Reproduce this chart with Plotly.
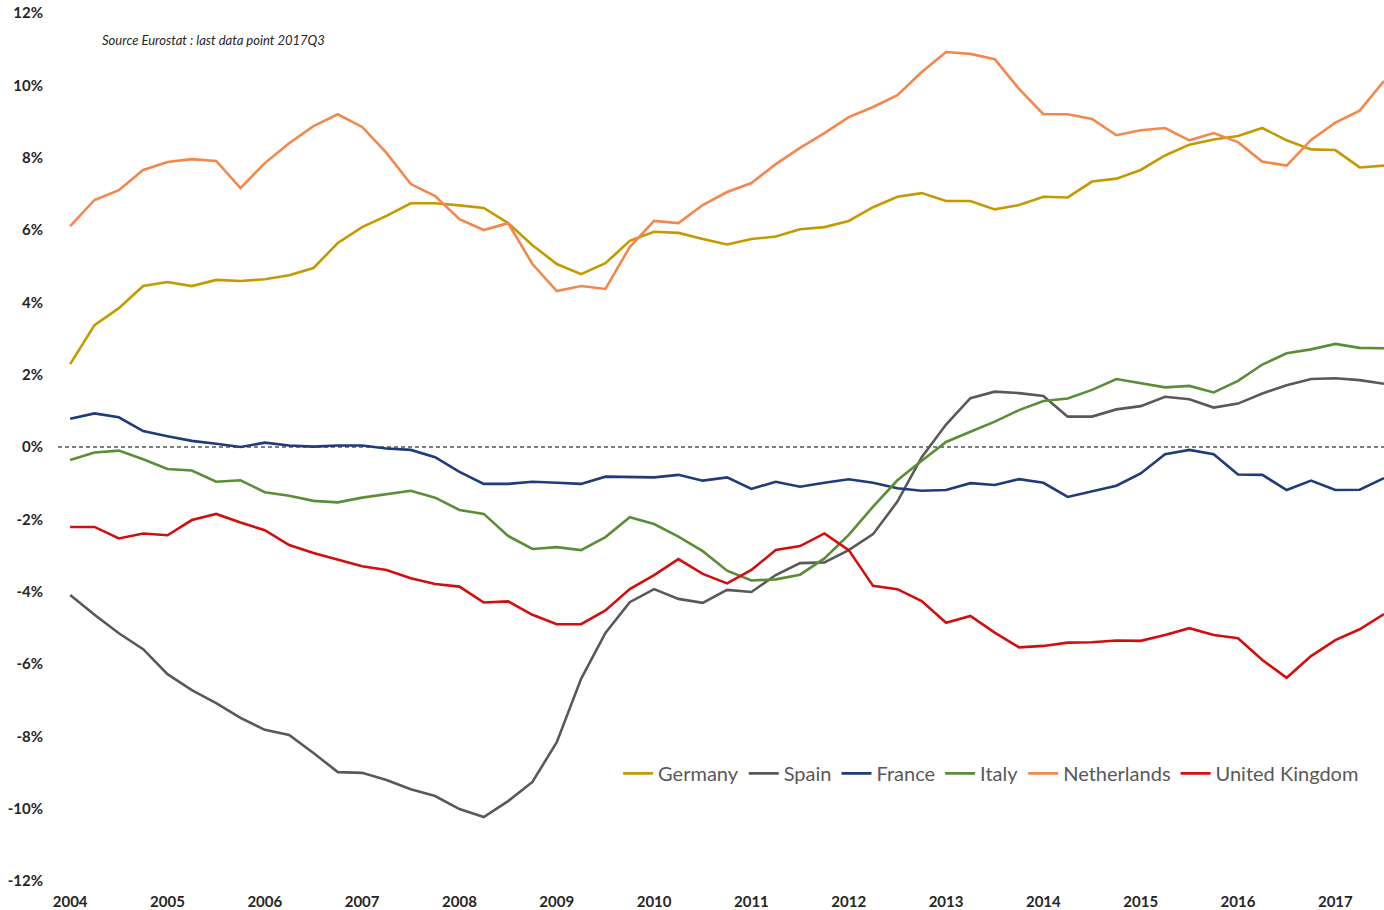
"""
Current account balance (% of GDP), selected European economies, 2004Q1-2017Q3.
"""

import plotly.graph_objects as go

YEARS = list(range(2004, 2018))
QUARTERS = [f"{y}Q{q}" for y in YEARS for q in (1, 2, 3, 4)][:55]

GERMANY = [
    2.29, 3.37, 3.84, 4.45, 4.56, 4.45, 4.62, 4.59, 4.64, 4.75, 4.95, 5.64, 6.08, 6.39,
    6.74, 6.74, 6.68, 6.61, 6.19, 5.58, 5.06, 4.78, 5.08, 5.70, 5.95, 5.92, 5.75, 5.60,
    5.75, 5.82, 6.02, 6.08, 6.25, 6.63, 6.92, 7.02, 6.80, 6.80, 6.57, 6.69, 6.92, 6.90,
    7.34, 7.42, 7.66, 8.06, 8.36, 8.50, 8.60, 8.82, 8.48, 8.23, 8.21, 7.73, 7.78,
]
SPAIN = [
    -4.09, -4.64, -5.15, -5.59, -6.28, -6.72, -7.08, -7.49, -7.82, -7.96, -8.46, -8.99,
    -9.01, -9.21, -9.46, -9.65, -10.01, -10.23, -9.79, -9.26, -8.16, -6.41, -5.14, -4.29,
    -3.93, -4.20, -4.31, -3.95, -4.01, -3.54, -3.21, -3.19, -2.85, -2.41, -1.51, -0.28,
    0.62, 1.35, 1.53, 1.49, 1.41, 0.84, 0.84, 1.04, 1.13, 1.39, 1.32, 1.09, 1.20, 1.48,
    1.71, 1.88, 1.90, 1.85, 1.75,
]
FRANCE = [
    0.78, 0.93, 0.82, 0.44, 0.30, 0.17, 0.09, 0.00, 0.12, 0.04, 0.01, 0.04, 0.04, -0.04,
    -0.08, -0.28, -0.69, -1.02, -1.02, -0.96, -0.99, -1.02, -0.82, -0.82, -0.84, -0.77,
    -0.93, -0.84, -1.16, -0.96, -1.10, -0.99, -0.89, -0.99, -1.14, -1.21, -1.19, -1.00,
    -1.05, -0.89, -0.99, -1.38, -1.22, -1.07, -0.73, -0.20, -0.08, -0.20, -0.76, -0.77,
    -1.19, -0.93, -1.19, -1.18, -0.86,
]
ITALY = [
    -0.36, -0.15, -0.10, -0.34, -0.61, -0.65, -0.96, -0.92, -1.25, -1.35, -1.49, -1.53,
    -1.40, -1.30, -1.21, -1.40, -1.74, -1.85, -2.46, -2.82, -2.77, -2.85, -2.49, -1.94,
    -2.13, -2.48, -2.88, -3.42, -3.69, -3.66, -3.53, -3.08, -2.43, -1.65, -0.92, -0.38,
    0.14, 0.42, 0.70, 1.02, 1.27, 1.34, 1.58, 1.88, 1.76, 1.65, 1.69, 1.51, 1.83, 2.28,
    2.59, 2.70, 2.85, 2.74, 2.73,
]
NETHERLANDS = [
    6.11, 6.83, 7.10, 7.66, 7.88, 7.96, 7.91, 7.16, 7.85, 8.40, 8.87, 9.20, 8.85, 8.13,
    7.27, 6.94, 6.30, 6.00, 6.19, 5.06, 4.31, 4.45, 4.37, 5.53, 6.25, 6.19, 6.69, 7.05,
    7.30, 7.82, 8.27, 8.68, 9.12, 9.40, 9.73, 10.37, 10.92, 10.87, 10.72, 9.90, 9.20,
    9.20, 9.07, 8.62, 8.76, 8.82, 8.48, 8.68, 8.43, 7.89, 7.78, 8.49, 8.97, 9.30, 10.12,
]
UNITED_KINGDOM = [
    -2.21, -2.21, -2.53, -2.39, -2.44, -2.02, -1.85, -2.09, -2.30, -2.71, -2.93, -3.12,
    -3.30, -3.40, -3.63, -3.79, -3.86, -4.30, -4.27, -4.64, -4.90, -4.90, -4.52, -3.93,
    -3.54, -3.10, -3.51, -3.77, -3.40, -2.85, -2.74, -2.39, -2.85, -3.84, -3.93, -4.26,
    -4.86, -4.67, -5.13, -5.54, -5.50, -5.41, -5.40, -5.35, -5.36, -5.20, -5.01, -5.20,
    -5.29, -5.89, -6.38, -5.78, -5.34, -5.04, -4.62,
]

SERIES = [
    ("Germany", GERMANY, "#C49A00"),
    ("Spain", SPAIN, "#595959"),
    ("France", FRANCE, "#1F3B7A"),
    ("Italy", ITALY, "#5A8E36"),
    ("Netherlands", NETHERLANDS, "#F4874B"),
    ("United Kingdom", UNITED_KINGDOM, "#D40D0D"),
]

Y_TICKS = list(range(-12, 13, 2))
FONT = "Lato, Carlito, Calibri, sans-serif"


def build_figure():
    fig = go.Figure()
    for name, values, color in SERIES:
        fig.add_trace(
            go.Scatter(
                x=QUARTERS,
                y=values,
                name=name,
                mode="lines",
                line=dict(color=color, width=2.6),
            )
        )

    # dashed zero line across the whole plot area
    fig.add_shape(
        type="line", xref="paper", yref="y",
        x0=0, x1=1, y0=0, y1=0,
        line=dict(color="black", width=1.2, dash="4px,3px"),
        layer="below",
    )
    fig.add_annotation(
        text="Source Eurostat : last data point 2017Q3",
        xref="paper", yref="paper", x=0.032, y=0.969,
        xanchor="left", yanchor="middle", showarrow=False,
        font=dict(family=FONT, size=13, color="#262626", style="italic"),
    )

    fig.update_layout(
        width=1384,
        height=910,
        margin=dict(t=13, b=29, l=58, r=0),
        plot_bgcolor="white",
        paper_bgcolor="white",
        font=dict(family=FONT),
        legend=dict(
            orientation="h",
            x=0.985, xanchor="right",
            y=0.124, yanchor="middle",
            bgcolor="rgba(0,0,0,0)",
            font=dict(family=FONT, size=20, color="#595959"),
            itemwidth=30,
            tracegroupgap=0,
        ),
    )
    fig.update_xaxes(
        type="category",
        range=[-0.5, 54],
        tickvals=[f"{y}Q1" for y in YEARS],
        ticktext=[str(y) for y in YEARS],
        tickfont=dict(family=FONT, size=15, color="#262626", weight="bold"),
        showgrid=False,
        showline=False,
        zeroline=False,
        ticklabelstandoff=10,
    )
    fig.update_yaxes(
        range=[-12, 12],
        tickvals=Y_TICKS,
        ticktext=[f"{v}%" for v in Y_TICKS],
        tickfont=dict(family=FONT, size=15, color="#262626", weight="bold"),
        showgrid=False,
        showline=False,
        zeroline=False,
        ticklabelstandoff=14,
    )
    return fig


fig = build_figure()
fig.write_html(
    "out.html",
    config={"displayModeBar": False},
    post_script="document.body.style.margin='0px';",
)
